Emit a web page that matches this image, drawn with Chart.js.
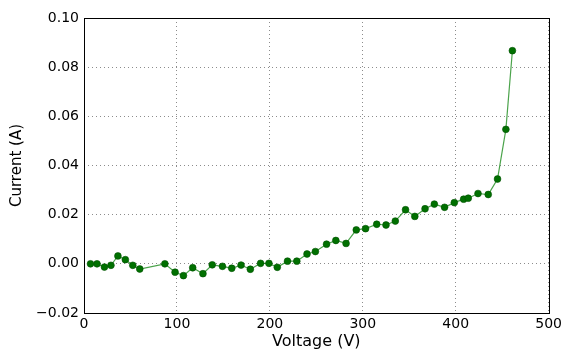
<!DOCTYPE html>
<html>
<head>
<meta charset="utf-8">
<script src="https://cdn.jsdelivr.net/npm/chart.js@4/dist/chart.umd.min.js"></script>
<style>
  html, body { margin:0; padding:0; background:#fff; }
  #wrap { width:565px; height:349px; }
</style>
</head>
<body>
<div id="wrap"><canvas id="ivChart" width="565" height="349"></canvas></div>
<script>
// ==== Data ====
const voltage = [7, 14, 22, 29, 36.5, 44.5, 52.5, 60, 87, 98, 107, 117, 128, 138, 149, 159,
  169, 179, 190, 199, 208, 219, 229, 240, 249, 261, 271, 282, 293, 303, 315, 325, 335, 346,
  356, 367, 377, 388, 398.5, 408.5, 413.5, 424, 435, 445, 454, 461];
const current = [0.0000, 0.0000, -0.0013, -0.0006, 0.0032, 0.0017, -0.0006, -0.0021, 0.0000,
  -0.0034, -0.0048, -0.0016, -0.0040, -0.0004, -0.0010, -0.0018, -0.0005, -0.0022, 0.0002,
  0.0002, -0.0014, 0.0011, 0.0011, 0.0040, 0.0050, 0.0080, 0.0095, 0.0083, 0.0138, 0.0143,
  0.0161, 0.0158, 0.0174, 0.0220, 0.0193, 0.0224, 0.0243, 0.0230, 0.0249, 0.0263, 0.0267,
  0.0286, 0.0282, 0.0345, 0.0547, 0.0867];

const xTicks = [0, 100, 200, 300, 400, 500];
const yTicks = [-0.02, 0.00, 0.02, 0.04, 0.06, 0.08, 0.10];

// ==== Helpers ====
const FONT = "'DejaVu Sans', sans-serif";
const fmtY = (v) => v.toFixed(2).replace("-", "\u2212");

// black frame round the plot area
const frame = {
  id: "frame",
  afterDraw(chart) {
    const { ctx, chartArea: a } = chart;
    ctx.save();
    ctx.strokeStyle = "#000";
    ctx.lineWidth = 1;
    ctx.strokeRect(Math.round(a.left) + 0.5, Math.round(a.top) + 0.5,
      Math.round(a.right - a.left), Math.round(a.bottom - a.top));
    ctx.restore();
  }
};

// dotted grey grid, no outside tick marks
const grid = { color: "#8c8c8c", lineWidth: 1, drawTicks: false };

// ==== Chart ====
new Chart(document.getElementById("ivChart"), {
  type: "scatter",
  data: {
    datasets: [{
      data: voltage.map((v, i) => ({ x: v, y: current[i] })),
      showLine: true,
      borderColor: "rgba(30, 140, 30, 0.8)",
      borderWidth: 1.2,
      pointRadius: 3.4,
      pointBackgroundColor: "#007000",
      pointBorderColor: "#005000",
      pointBorderWidth: 0.6
    }]
  },
  options: {
    responsive: false,
    animation: false,
    layout: { padding: { top: 18, right: 15, left: 0, bottom: 0 } },
    plugins: { legend: { display: false }, tooltip: { enabled: false } },
    scales: {
      x: {
        type: "linear",
        min: xTicks[0], max: xTicks[xTicks.length - 1],
        afterBuildTicks: (s) => { s.ticks = xTicks.map(v => ({ value: v })); },
        afterFit: (s) => { s.height = 36; },
        border: { display: false, dash: [1, 3] },
        grid: grid,
        ticks: { color: "#000", font: { family: FONT, size: 14 }, padding: 3, maxRotation: 0 },
        title: { display: true, text: "Voltage (V)", color: "#000", font: { family: FONT, size: 16 }, padding: { top: 0, bottom: -2 } }
      },
      y: {
        min: yTicks[0], max: yTicks[yTicks.length - 1],
        afterBuildTicks: (s) => { s.ticks = yTicks.map(v => ({ value: v })); },
        afterFit: (s) => { s.width = 84; },
        border: { display: false, dash: [1, 3] },
        grid: grid,
        ticks: { color: "#000", font: { family: FONT, size: 14 }, padding: 5, callback: fmtY },
        title: { display: true, text: "Current (A)", color: "#000", font: { family: FONT, size: 15 }, padding: { top: 8, bottom: 0 } }
      }
    }
  },
  plugins: [frame]
});
</script>
</body>
</html>
